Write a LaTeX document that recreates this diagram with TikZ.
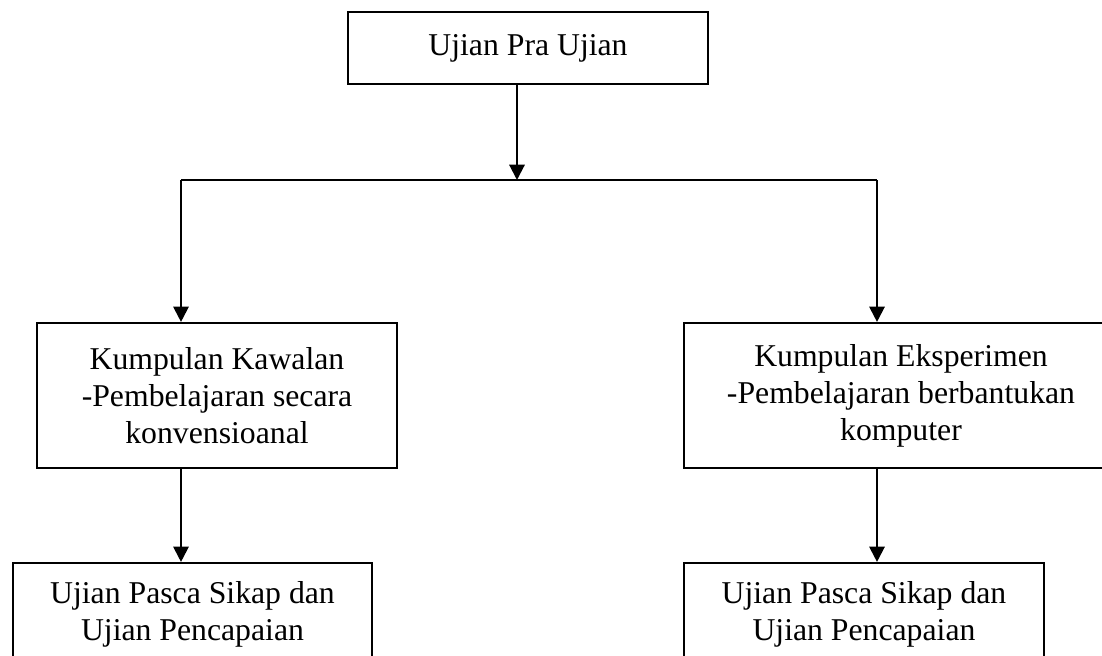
\documentclass[tikz,border=0pt]{standalone}
\usepackage{fontspec}
\setmainfont{Liberation Serif}
\usetikzlibrary{arrows.meta,positioning}
\tikzset{
  box/.style={draw, line width=1.6pt, align=center, inner sep=0pt,
              font=\fontsize{23.8}{27.75}\selectfont},
  flow/.style={-{Triangle[length=11.5pt,width=11.5pt]}, line width=1.6pt},
  link/.style={line width=1.6pt}
}

\begin{document}
\begin{tikzpicture}[x=0.75pt, y=-0.75pt]
  \useasboundingbox (0,0) rectangle (1102,656);
  \clip (0,0) rectangle (1102,656);
  \node[box, minimum width=270pt, minimum height=54pt] (prauji) at (528,48) {Ujian Pra Ujian};
  \node[box, minimum width=270pt, minimum height=108.75pt] (kawalan) at (217,395.5)
    {Kumpulan Kawalan\\-Pembelajaran secara\\konvensioanal};
  \node[box, minimum width=325.5pt, minimum height=108.75pt] (eksperimen) at (901,395.5)
    {Kumpulan Eksperimen\\-Pembelajaran berbantukan\\komputer};
  \node[box, minimum width=269.25pt, minimum height=76.5pt] (pascakawalan) at (192.5,614)
    {Ujian Pasca Sikap dan\\Ujian Pencapaian};
  \node[box, minimum width=270pt, minimum height=76.5pt] (pascaeksperimen) at (864,614)
    {Ujian Pasca Sikap dan\\Ujian Pencapaian};
  \coordinate (split) at (517,180);
  \coordinate (leftdrop) at (181,180);
  \coordinate (rightdrop) at (877,180);
  \draw[flow] (prauji.south -| split) -- (split);
  \draw[link] (leftdrop) -- (rightdrop);
  \draw[flow] (leftdrop) -- (leftdrop |- kawalan.north);
  \draw[flow] (rightdrop) -- (rightdrop |- eksperimen.north);
  \draw[flow] (leftdrop |- kawalan.south) -- (leftdrop |- pascakawalan.north);
  \draw[flow] (rightdrop |- eksperimen.south) -- (rightdrop |- pascaeksperimen.north);
\end{tikzpicture}
\end{document}
